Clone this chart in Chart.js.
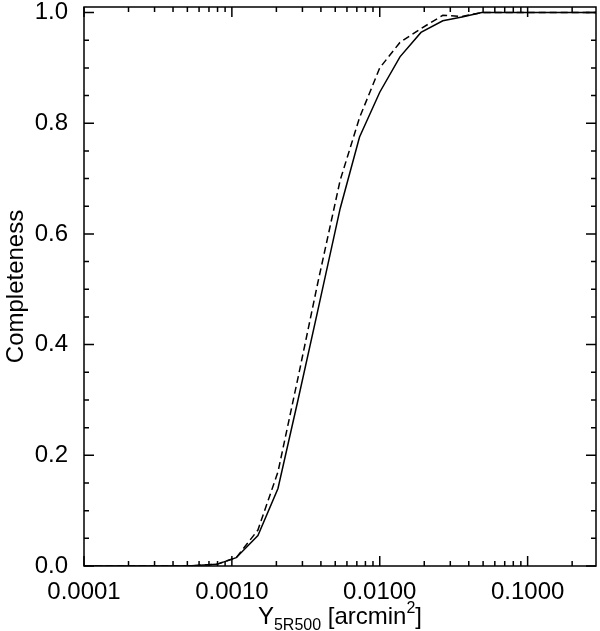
<!DOCTYPE html>
<html>
<head>
<meta charset="utf-8">
<script src="https://cdn.jsdelivr.net/npm/chart.js@4.4.0/dist/chart.umd.min.js"></script>
<style>
html, body { margin: 0; padding: 0; background: #fff; }
</style>
</head>
<body>
<canvas id="myChart" width="600" height="631"></canvas>
<script>
const xValues = [0.0001, 0.0005, 0.00079, 0.00107, 0.0015, 0.00205, 0.0028, 0.0038, 0.0054, 0.0073, 0.0100, 0.0137, 0.0190, 0.0267, 0.0360, 0.0490, 0.29];
const solidValues = [0, 0, 0.003, 0.015, 0.055, 0.14, 0.30, 0.46, 0.646, 0.775, 0.856, 0.920, 0.964, 0.985, 0.992, 1.0, 1.0];
const dashedValues = [0, 0, 0.003, 0.015, 0.065, 0.17, 0.34, 0.51, 0.697, 0.81, 0.90, 0.946, 0.971, 0.995, 0.993, 1.0, 1.0];
const xTickValues = [0.0001, 0.001, 0.01, 0.1];
const xTickLabels = ['0.0001', '0.0010', '0.0100', '0.1000'];
const yTickValues = [0, 0.2, 0.4, 0.6, 0.8, 1.0];
const yTickLabels = ['0.0', '0.2', '0.4', '0.6', '0.8', '1.0'];

const font = '"Liberation Sans", Arial, Helvetica, sans-serif';

const toPoints = (ys) => xValues.map((x, i) => ({ x: x, y: ys[i] }));

// frame, inward ticks and axis titles
const frame = {
    id: 'frame',
    afterDraw(chart) {
        const ctx = chart.ctx;
        const { left, right, top, bottom } = chart.chartArea;
        const xs = chart.scales.x;
        const ys = chart.scales.y;
        ctx.save();
        ctx.strokeStyle = '#000';
        ctx.lineWidth = 1.5;
        ctx.strokeRect(left, top, right - left, bottom - top);
        ctx.beginPath();
        for (let e = -4; e <= -1; e++) {
            for (let m = 1; m <= 9; m++) {
                const v = m * Math.pow(10, e);
                if (v > xs.max) continue;
                const px = xs.getPixelForValue(v);
                const len = m === 1 ? 10 : 5;
                ctx.moveTo(px, bottom); ctx.lineTo(px, bottom - len);
                ctx.moveTo(px, top); ctx.lineTo(px, top + len);
            }
        }
        for (let i = 0; i <= 20; i++) {
            const v = i * 0.05;
            const py = ys.getPixelForValue(v);
            const len = i % 4 === 0 ? 10 : 5;
            ctx.moveTo(left, py); ctx.lineTo(left + len, py);
            ctx.moveTo(right, py); ctx.lineTo(right - len, py);
        }
        ctx.stroke();

        ctx.fillStyle = '#000';
        // y title
        ctx.save();
        ctx.translate(23, (top + bottom) / 2);
        ctx.rotate(-Math.PI / 2);
        ctx.font = '24px ' + font;
        ctx.textAlign = 'center';
        ctx.textBaseline = 'alphabetic';
        ctx.fillText('Completeness', 0, 0);
        ctx.restore();

        // x title with sub/superscript
        const parts = [
            { t: 'Y', size: 24, dy: 0 },
            { t: '5R500', size: 16, dy: 6 },
            { t: ' [arcmin', size: 24, dy: 0 },
            { t: '2', size: 16, dy: -11 },
            { t: ']', size: 24, dy: 0 }
        ];
        let total = 0;
        parts.forEach(p => { ctx.font = p.size + 'px ' + font; p.w = ctx.measureText(p.t).width; total += p.w; });
        let x = (left + right) / 2 - total / 2;
        const base = 624;
        ctx.textAlign = 'left';
        ctx.textBaseline = 'alphabetic';
        parts.forEach(p => {
            ctx.font = p.size + 'px ' + font;
            ctx.fillText(p.t, x, base + p.dy);
            x += p.w;
        });
        ctx.restore();
    }
};

new Chart(document.getElementById('myChart'), {
    type: 'line',
    data: {
        datasets: [{
            label: 'solid',
            data: toPoints(solidValues),
            borderColor: '#000',
            borderWidth: 1.5,
            pointRadius: 0,
            tension: 0,
            fill: false
        }, {
            label: 'dashed',
            data: toPoints(dashedValues),
            borderColor: '#000',
            borderWidth: 1.5,
            borderDash: [7, 4],
            pointRadius: 0,
            tension: 0,
            fill: false
        }]
    },
    options: {
        responsive: false,
        animation: false,
        layout: { padding: { top: 7, right: 4, left: 0, bottom: 0 } },
        plugins: { legend: { display: false }, tooltip: { enabled: false } },
        scales: {
            x: {
                type: 'logarithmic',
                min: 0.0001,
                max: 0.29,
                grid: { display: false },
                border: { display: false },
                afterBuildTicks: s => { s.ticks = xTickValues.map(v => ({ value: v })); },
                afterFit: s => { s.height = 65; s.paddingLeft = 0; s.paddingRight = 0; },
                ticks: {
                    autoSkip: false,
                    maxRotation: 0,
                    padding: 4,
                    color: '#000',
                    font: { family: font, size: 24 },
                    callback: (v, i) => xTickLabels[i]
                }
            },
            y: {
                type: 'linear',
                min: 0,
                max: 1.01,
                grid: { display: false },
                border: { display: false },
                afterBuildTicks: s => { s.ticks = yTickValues.map(v => ({ value: v })); },
                afterFit: s => { s.width = 84; s.paddingTop = 0; s.paddingBottom = 0; },
                ticks: {
                    padding: 8,
                    color: '#000',
                    font: { family: font, size: 24 },
                    callback: (v, i) => yTickLabels[i]
                }
            }
        }
    },
    plugins: [frame]
});
</script>
</body>
</html>
